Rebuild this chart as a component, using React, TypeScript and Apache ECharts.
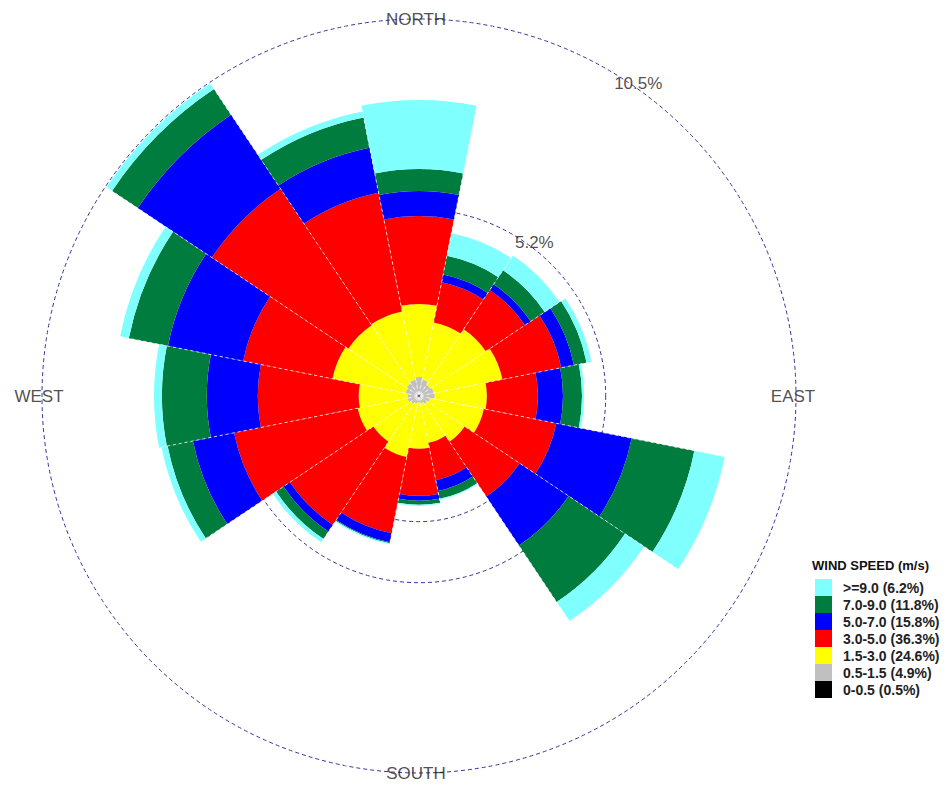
import React, { useEffect, useRef } from 'react';
import * as echarts from 'echarts';

const FONT = '"Liberation Sans", Arial, sans-serif';

const directions = ['N', 'NNE', 'NE', 'ENE', 'E', 'ESE', 'SE', 'SSE', 'S', 'SSW', 'SW', 'WSW', 'W', 'WNW', 'NW', 'NNW'];

// speed bins (bottom of stack first) with legend labels and colours
const speedBins = ['0-0.5 (0.5%)', '0.5-1.5 (4.9%)', '1.5-3.0 (24.6%)', '3.0-5.0 (36.3%)', '5.0-7.0 (15.8%)', '7.0-9.0 (11.8%)', '>=9.0 (6.2%)'];
const binColors = ['#000000', '#c0c0c0', '#ffff00', '#ff0000', '#0000ff', '#007c3e', '#80ffff'];

// frequency (%) per direction for each speed bin
const v0to05 = [0.03, 0.03, 0.04, 0.03, 0.03, 0.03, 0.03, 0.02, 0.02, 0.03, 0.03, 0.04, 0.04, 0.04, 0.03, 0.03];
const v05to15 = [0.50, 0.44, 0.34, 0.39, 0.41, 0.28, 0.24, 0.19, 0.16, 0.19, 0.24, 0.28, 0.28, 0.34, 0.39, 0.44];
const v15to3 = [2.03, 1.62, 1.86, 1.95, 1.45, 1.53, 1.26, 1.12, 1.29, 1.51, 1.26, 1.42, 1.36, 2.08, 1.95, 1.93];
const v3to5 = [2.45, 1.14, 1.31, 1.67, 1.42, 2.06, 1.84, 1.06, 1.31, 2.17, 2.79, 3.51, 2.81, 2.53, 4.57, 3.37];
const v5to7 = [0.70, 0.22, 0.19, 0.36, 0.70, 2.14, 1.64, 0.31, 0.14, 0.25, 0.22, 1.17, 1.42, 2.14, 2.48, 1.28];
const v7to9 = [0.61, 0.53, 0.47, 0.36, 0.53, 1.78, 1.89, 0.22, 0.11, 0.03, 0.25, 0.72, 1.25, 1.11, 0.86, 0.86];
const v9plus = [1.92, 0.64, 0.50, 0.14, 0.06, 0.86, 0.64, 0.03, 0.03, 0.03, 0.11, 0.17, 0.22, 0.25, 0.19, 0.17];
const binValues = [v0to05, v05to15, v15to3, v3to5, v5to7, v7to9, v9plus];

// rings of the radius axis
const radiusMax = 10.5;
const ringValues = [3.5, 5.2, 10.5];
const ringLabelValues = [5.2, 10.5];
const ringLabelTexts = ['5.2%', '10.5%'];
const ringLabelAngles = [37, 35];

// compass labels
const compassNames = ['NORTH', 'EAST', 'SOUTH', 'WEST'];
const compassAngles = [0, 90, 180, 270];

const legendTitle = 'WIND SPEED (m/s)';

export default function App() {
  const ref = useRef<HTMLDivElement>(null);

  useEffect(() => {
    if (!ref.current) return;
    const chart = echarts.init(ref.current, undefined, { renderer: 'svg' });

    const barSeries = speedBins.map((name, i) => ({
      name,
      type: 'bar',
      coordinateSystem: 'polar',
      polarIndex: 0,
      stack: 'wind',
      barCategoryGap: '0%',
      data: binValues[i],
      itemStyle: { color: binColors[i] },
      emphasis: { disabled: true },
    }));

    const option: any = {
      animation: false,
      backgroundColor: '#ffffff',
      title: {
        text: legendTitle,
        left: 812,
        top: 559,
        padding: 0,
        textStyle: { fontFamily: FONT, fontSize: 13, fontWeight: 'bold', color: '#111' },
      },
      legend: {
        orient: 'vertical',
        left: 815,
        top: 579,
        padding: 0,
        itemGap: 0,
        itemWidth: 17,
        itemHeight: 17,
        icon: 'rect',
        selectedMode: false,
        data: speedBins.slice().reverse(),
        textStyle: { fontFamily: FONT, fontSize: 14, fontWeight: 'bold', color: '#222', padding: [0, 0, 0, 6], lineHeight: 17 },
      },
      polar: [
        { center: [419, 396], radius: 377 },
        { center: [419, 396], radius: 377 },
      ],
      angleAxis: [
        {
          polarIndex: 0,
          type: 'category',
          data: directions,
          startAngle: 90 + 360 / directions.length / 2,
          clockwise: true,
          boundaryGap: true,
          z: 3,
          axisLine: { show: false },
          axisTick: { show: false },
          axisLabel: { show: false },
          splitLine: { show: true, lineStyle: { color: 'rgba(255,255,255,0.75)', type: [3, 3], width: 1 } },
        },
        {
          polarIndex: 1,
          type: 'value',
          min: 0,
          max: 360,
          startAngle: 90,
          clockwise: true,
          axisLine: { show: false },
          axisTick: { show: false },
          axisLabel: { show: false },
          splitLine: { show: false },
        },
      ],
      radiusAxis: [
        {
          polarIndex: 0,
          type: 'value',
          min: 0,
          max: radiusMax,
          axisLine: { show: false },
          axisTick: { show: false },
          axisLabel: { show: false },
          splitLine: { show: false },
        },
        {
          polarIndex: 1,
          type: 'value',
          min: 0,
          max: radiusMax,
          axisLine: { show: false },
          axisTick: { show: false, customValues: ringValues },
          axisLabel: { show: false, customValues: ringValues },
          splitLine: { show: true, lineStyle: { color: '#34349c', type: [4, 3], width: 1 } },
        },
      ],
      series: [
        ...barSeries,
        {
          type: 'scatter',
          coordinateSystem: 'polar',
          polarIndex: 1,
          clip: false,
          symbol: 'circle',
          symbolSize: 1,
          itemStyle: { color: 'rgba(0,0,0,0)' },
          silent: true,
          z: 5,
          data: ringLabelValues.map((v, i) => ({ name: ringLabelTexts[i], value: [v, ringLabelAngles[i]] })),
          label: {
            show: true,
            position: 'inside',
            formatter: '{b}',
            offset: [3, -4],
            fontFamily: FONT,
            fontSize: 17,
            color: '#222',
          },
        },
        {
          type: 'scatter',
          coordinateSystem: 'polar',
          polarIndex: 1,
          clip: false,
          symbol: 'circle',
          symbolSize: 1,
          itemStyle: { color: 'rgba(0,0,0,0)' },
          silent: true,
          z: 5,
          data: compassNames.map((n, i) => ({ name: n, value: [radiusMax, compassAngles[i]] })),
          label: {
            show: true,
            position: 'inside',
            formatter: '{b}',
            offset: [-3, 0],
            fontFamily: FONT,
            fontSize: 17,
            color: '#222',
          },
        },
      ],
    };

    chart.setOption(option);
    return () => chart.dispose();
  }, []);

  return (
    <div
      ref={ref}
      style={{ position: 'fixed', left: 0, top: 0, width: 950, height: 786, background: '#fff' }}
    />
  );
}
